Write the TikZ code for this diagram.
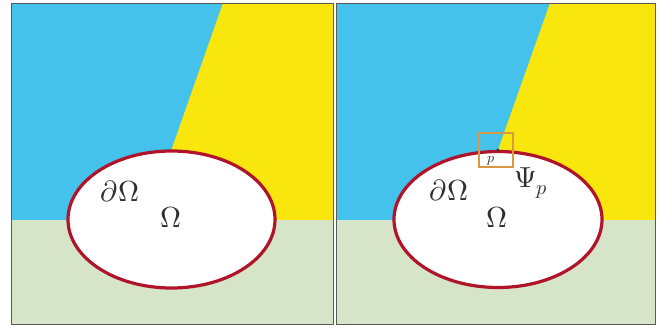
\documentclass[tikz,border=0pt]{standalone}
\usepackage{fontspec}
\usepackage{unicode-math}
\definecolor{skyb}{HTML}{45C2EC}
\definecolor{yel}{HTML}{F8E60C}
\definecolor{grn}{HTML}{D6E4C8}
\definecolor{redl}{HTML}{B0142A}
\definecolor{orng}{HTML}{D89A40}
\definecolor{txt}{HTML}{2E2E2E}
\begin{document}
\begin{tikzpicture}[x=1pt,y=-1pt,
  panel/.style={draw=black!65,line width=0.8pt},
  regionline/.style={draw=redl,line width=3.2pt,fill=white},
  lbl/.style={text=txt,inner sep=0pt,font=\fontsize{29}{31}\selectfont},
  lblsmall/.style={text=txt,inner sep=0pt,font=\fontsize{14}{16}\selectfont}]
\useasboundingbox[fill=white] (0,0) rectangle (662,329);
% left panel
\fill[skyb] (11,3) rectangle (333,324);
\fill[yel] (223,3) -- (333,3) -- (333,220) -- (146.7,220) -- cycle;
\fill[grn] (11,220) rectangle (333,324);
\draw[panel] (11,3) rectangle (333,324);
\draw[regionline] (171.5,219.5) ellipse [x radius=103.5, y radius=68.5];
\node[lbl] (dOmL) at (120,191) {$\partial\Omega$};
\node[lbl] (OmL) at (171,217) {$\Omega$};
% right panel
\fill[skyb] (336,3) rectangle (655,324);
\fill[yel] (550,3) -- (655,3) -- (655,220) -- (473.2,220) -- cycle;
\fill[grn] (336,220) rectangle (655,324);
\draw[panel] (336,3) rectangle (655,324);
\draw[regionline] (498,219.5) ellipse [x radius=104, y radius=68];
\node[draw=orng,line width=1.3pt,minimum size=34pt,inner sep=0pt] (sq) at (496,150) {};
\fill[black!80] (498,150) circle (1.6pt) coordinate (pt);
\node[lblsmall] (pl) at (491,161) {$p$};
\node[lbl] (psi) at (531,183) {$\Psi_{p}$};
\node[lbl] (dOmR) at (449,190) {$\partial\Omega$};
\node[lbl] (OmR) at (497,217) {$\Omega$};
\end{tikzpicture}
\end{document}
